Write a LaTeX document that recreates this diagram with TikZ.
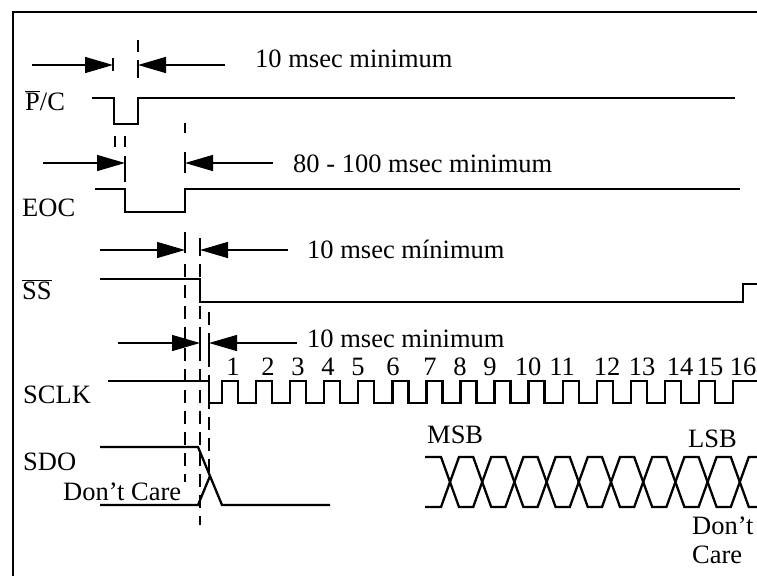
\documentclass[tikz,border=0pt]{standalone}
\usepackage{fontspec}
\setmainfont{Liberation Serif}
\usetikzlibrary{arrows.meta,positioning}
\newcommand{\negsig}[1]{$\overline{\mbox{#1}}$}

\begin{document}
\begin{tikzpicture}[x=1pt, y=-1pt,
    sig/.style={line width=2.3pt, line join=miter},
    dim/.style={line width=1.4pt, -{Triangle[length=28pt, width=16pt]}},
    guide/.style={line width=1.8pt, dash pattern=on 13pt off 8pt},
    bar/.style={line width=1.8pt},
    lbl/.style={font=\fontsize{26.5}{29}\selectfont, inner sep=0pt, anchor=base west},
    num/.style={font=\fontsize{26.5}{29}\selectfont, inner sep=0pt, anchor=base}]

    \useasboundingbox (0,0) rectangle (757,576);
    \clip (0,0) rectangle (757,576);

    % Frame
    \draw [line width=2.6pt] (757,12) -- (13,12) -- (13,576);

    % Signal names
    \node [lbl] (pc)   at (25,110) {\negsig{P}/C};
    \node [lbl] (eoc)  at (22,216) {EOC};
    \node [lbl] (ss)   at (22,299) {\negsig{SS}};
    \node [lbl] (sclk) at (23,403) {SCLK};
    \node [lbl] (sdo)  at (23,470) {SDO};

    % Waveforms
    \draw [sig] (92,98) -- (114,98) -- (114,124) -- (138,124) -- (138,98) -- (735,98);
    \draw [sig] (95,189) -- (125,189) -- (125,212) -- (185,212) -- (185,189) -- (740,189);
    \draw [sig] (100,279) -- (200,279) -- (200,302) -- (743,302) -- (743,284) -- (757,284);
    \draw [sig] (108,381) -- (209,381) -- (209,403)
        foreach \i in {0,...,14} { -- ({222+34.07*\i},403) -- ++(0,-22) -- ++(16,0) -- ++(0,22) }
        -- (733,403) -- (733,381) -- (757,381);
    \draw [sig] (100,447) -- (198,447) -- (222,505) -- (330,505);
    \draw [sig] (100,505) -- (198,505) -- (210,476);

    % Data bits
    \draw [sig] (425,457) foreach \k in {0,2,4,6,8} {
        -- ({441+32.2*\k},457) -- ({459+32.2*\k},507)
        -- ({473.2+32.2*\k},507) -- ({491.2+32.2*\k},457) } -- (757,457);
    \draw [sig] (425,507) foreach \k in {0,2,4,6,8} {
        -- ({441+32.2*\k},507) -- ({459+32.2*\k},457)
        -- ({473.2+32.2*\k},457) -- ({491.2+32.2*\k},507) } -- (757,507);

    % Clock numbers
    \foreach \n/\x in {1/233,2/268,3/298,4/328,5/358,6/393,7/430,8/460,
                       9/490,10/528,11/562,12/607,13/642,14/680,15/710,16/743}
        \node [num] (c\n) at (\x,375) {\n};

    % Guides
    \draw [bar] (138,40) -- (138,52) (138,60) -- (138,78) (113,58) -- (113,71);
    \draw [bar] (115,136) -- (115,147) (125,136) -- (125,147) (125,156) -- (125,182);
    \draw [bar] (185,123) -- (185,133) (185,152) -- (185,173) (185,232) -- (185,253);
    \draw [bar] (200,238) -- (200,256) (200,334) -- (200,352) (209,333) -- (209,354);
    \draw [guide] (185,264) -- (185,482);
    \draw [guide] (200,264) -- (200,525);
    \draw [guide] (209,312) -- (209,472);

    % Timing arrows
    \draw [dim] (32,65) -- (113,65);
    \draw [dim] (225,65) -- (138,65);
    \draw [dim] (43,163) -- (125,163);
    \draw [dim] (273,163) -- (185,163);
    \draw [dim] (100,250) -- (185,250);
    \draw [dim] (288,250) -- (200,250);
    \draw [dim] (118,343) -- (200,343);
    \draw [dim] (297,343) -- (209,343);

    % Annotations
    \node [lbl] (t1) at (255,67) {10 msec minimum};
    \node [lbl] (t2) at (293,172) {80 - 100 msec minimum};
    \node [lbl] (t3) at (307,258) {10 msec mínimum};
    \node [lbl] (t4) at (307,347) {10 msec minimum};
    \node [lbl] (dc1) at (63,500) {Don't Care};
    \node [lbl] (msb) at (427,443) {MSB};
    \node [lbl] (lsb) at (688,447) {LSB};
    \node [lbl, align=left, anchor=north west] (dc2) at (692,517) {Don't\\Care};
\end{tikzpicture}
\end{document}
